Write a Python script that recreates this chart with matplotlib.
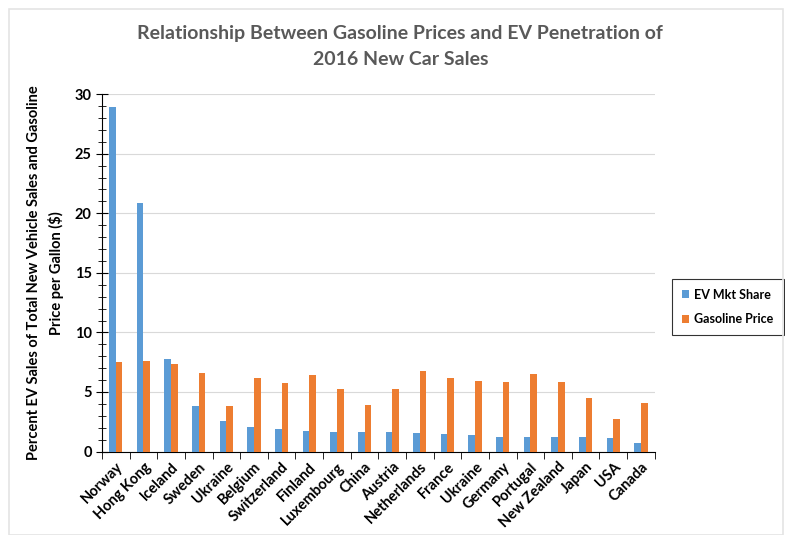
import numpy as np
import matplotlib.pyplot as plt
import matplotlib as mpl
from matplotlib.ticker import MultipleLocator

mpl.rcParams['font.family'] = ['Lato', 'DejaVu Sans']

countries = ['Norway', 'Hong Kong', 'Iceland', 'Sweden', 'Ukraine', 'Belgium',
             'Switzerland', 'Finland', 'Luxembourg', 'China', 'Austria',
             'Netherlands', 'France', 'Ukraine', 'Germany', 'Portugal',
             'New Zealand', 'Japan', 'USA', 'Canada']
ev_share = [28.9, 20.9, 7.8, 3.8, 2.6, 2.1, 1.9, 1.7, 1.6, 1.6, 1.6,
            1.55, 1.5, 1.4, 1.25, 1.2, 1.2, 1.2, 1.1, 0.7]
gas_price = [7.5, 7.6, 7.35, 6.6, 3.8, 6.15, 5.75, 6.4, 5.25, 3.9, 5.25,
             6.8, 6.15, 5.95, 5.8, 6.5, 5.8, 4.5, 2.75, 4.05]

blue = '#5B9BD5'
orange = '#ED7D31'

fig = plt.figure(figsize=(7.85, 5.35), dpi=100)
ax = fig.add_axes([0.130, 0.156, 0.704, 0.668])

# faint chart-area border like the Excel original
fig.patches.append(plt.Rectangle((0.012, 0.0), 0.985, 0.983, transform=fig.transFigure,
                                 fill=False, edgecolor='#e4e4e4', linewidth=1.2))

ind = np.arange(len(countries))
width = 0.24
ax.bar(ind - width / 2, ev_share, width, color=blue, label='EV Mkt Share', zorder=3)
ax.bar(ind + width / 2, gas_price, width, color=orange, label='Gasoline Price', zorder=3)

ax.set_xlim(-0.5, len(countries) - 0.5)
ax.set_ylim(0, 30)
ax.yaxis.set_major_locator(MultipleLocator(5))
ax.yaxis.set_minor_locator(MultipleLocator(1))
ax.grid(axis='y', color='#d9d9d9', linewidth=0.8, zorder=0)

ax.set_xticks(ind)
ax.set_xticklabels(countries, rotation=45, ha='right', rotation_mode='anchor',
                   fontsize=10.5, fontweight='bold')
ax.set_xticks(np.arange(-0.5, len(countries)), minor=True)
ax.tick_params(axis='x', which='major', length=0, pad=6)
ax.tick_params(axis='x', which='minor', length=5, direction='out', color='black')
ax.tick_params(axis='y', which='major', length=8, direction='inout',
               labelsize=10.5, color='black')
ax.tick_params(axis='y', which='minor', length=6, direction='inout', color='black')
for lbl in ax.get_yticklabels():
    lbl.set_fontweight('bold')

for s in ['top', 'right']:
    ax.spines[s].set_visible(False)
ax.spines['left'].set_color('black')
ax.spines['bottom'].set_color('black')

ax.set_ylabel('Percent EV Sales of Total New Vehicle Sales and Gasoline\nPrice per Gallon ($)',
              fontsize=10.5, fontweight='bold', labelpad=8, linespacing=1.5)

fig.text(0.51, 0.913, 'Relationship Between Gasoline Prices and EV Penetration of\n2016 New Car Sales',
         ha='center', va='center', fontsize=14, fontweight='bold', color='#595959',
         linespacing=1.7)

leg = ax.legend(loc='center left', bbox_to_anchor=(1.02, 0.405), frameon=True,
                fancybox=False, edgecolor='black', prop={'weight': 'bold', 'size': 9},
                handlelength=0.6, handleheight=0.6, handletextpad=0.4,
                labelspacing=1.0, borderpad=0.8)
leg.get_frame().set_linewidth(0.8)

plt.savefig('out.png', dpi=100)
